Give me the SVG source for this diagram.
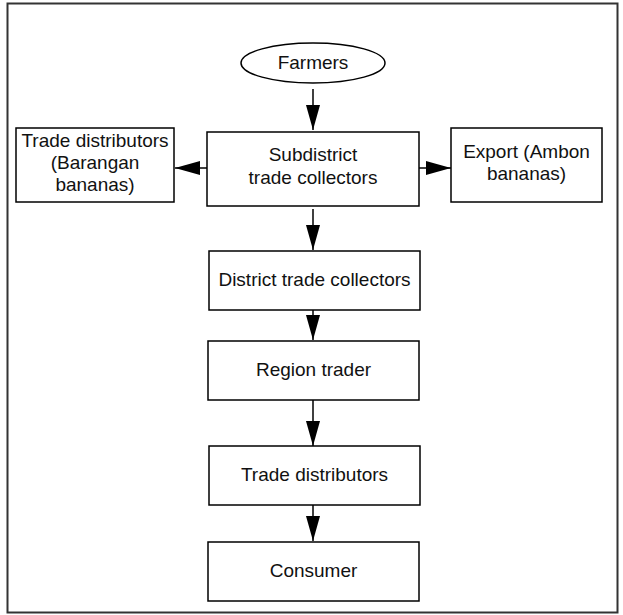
<svg xmlns="http://www.w3.org/2000/svg" width="623" height="615" viewBox="0 0 623 615">
<style>
.box{fill:#fff;stroke:#000;stroke-width:1.5}
.t{font-family:"Liberation Sans",Arial,sans-serif;font-size:19px;fill:#111;text-anchor:middle}
.c{stroke:#000;stroke-width:1.5;fill:none;marker-end:url(#ah)}
</style>
<defs>
<marker id="ah" viewBox="0 0 25 14" refX="25" refY="7" markerWidth="25" markerHeight="14" markerUnits="userSpaceOnUse" orient="auto">
<path d="M0,0 L25,7 L0,14 z" fill="#000"/>
</marker>
</defs>
<rect x="0" y="0" width="623" height="615" fill="#fff"/>
<rect x="7.5" y="3.5" width="610" height="609" fill="none" stroke="#333" stroke-width="2"/>
<g id="connectors">
<line class="c" x1="313" y1="89" x2="313" y2="130"/>
<line class="c" x1="207" y1="168" x2="175" y2="168"/>
<line class="c" x1="419" y1="168" x2="451" y2="168"/>
<line class="c" x1="313" y1="209" x2="313" y2="250"/>
<line class="c" x1="313" y1="310" x2="313" y2="340"/>
<line class="c" x1="313" y1="400" x2="313" y2="446"/>
<line class="c" x1="313" y1="505" x2="313" y2="541"/>
</g>
<g id="farmers">
<ellipse class="box" cx="313" cy="63" rx="72" ry="20"/>
<text class="t" x="313" y="69">Farmers</text>
</g>
<g id="subdistrict">
<rect class="box" x="207" y="132" width="212" height="74"/>
<text class="t" x="313" y="161">Subdistrict</text>
<text class="t" x="313" y="184">trade collectors</text>
</g>
<g id="barangan">
<rect class="box" x="16" y="128" width="158" height="74"/>
<text class="t" x="95" y="147">Trade distributors</text>
<text class="t" x="95" y="169">(Barangan</text>
<text class="t" x="95" y="191">bananas)</text>
</g>
<g id="export">
<rect class="box" x="451" y="128" width="151" height="74"/>
<text class="t" x="526.5" y="158">Export (Ambon</text>
<text class="t" x="526.5" y="180">bananas)</text>
</g>
<g id="district">
<rect class="box" x="209" y="251" width="211" height="59"/>
<text class="t" x="314.5" y="286">District trade collectors</text>
</g>
<g id="region">
<rect class="box" x="208" y="341" width="211" height="59"/>
<text class="t" x="313.5" y="376">Region trader</text>
</g>
<g id="trade">
<rect class="box" x="209" y="446" width="211" height="59"/>
<text class="t" x="314.5" y="481">Trade distributors</text>
</g>
<g id="consumer">
<rect class="box" x="208" y="542" width="211" height="59"/>
<text class="t" x="313.5" y="577">Consumer</text>
</g>
</svg>
